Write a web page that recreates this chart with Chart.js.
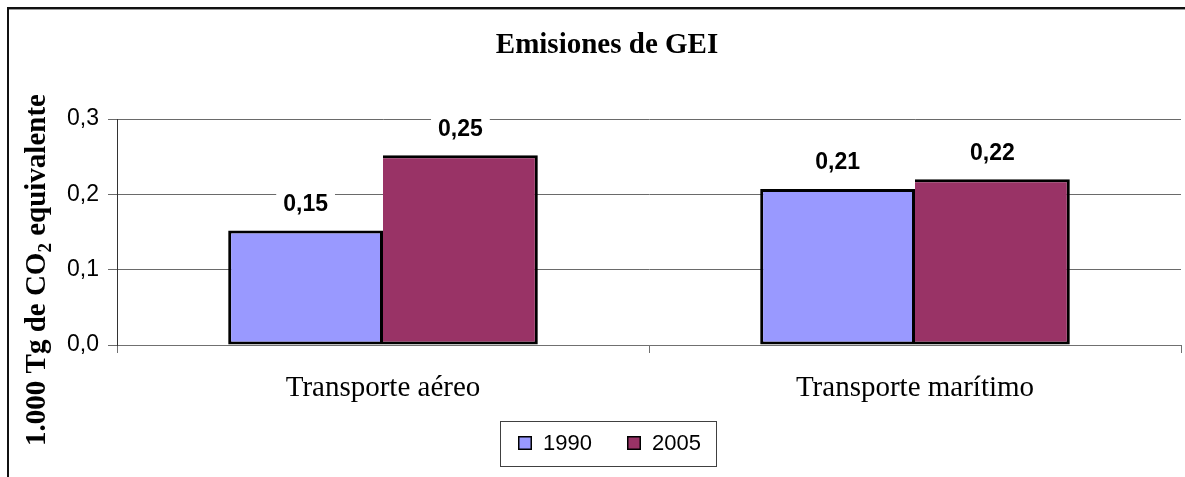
<!DOCTYPE html>
<html>
<head>
<meta charset="utf-8">
<script src="https://cdn.jsdelivr.net/npm/chart.js@4"></script>
<style>
html,body{margin:0;padding:0;background:#fff;}
#c{display:block;}
</style>
</head>
<body>
<canvas id="c" width="1185" height="477"></canvas>
<script>
const categories = ['Transporte aéreo', 'Transporte marítimo'];
const seriesLabels = ['1990', '2005'];
const values1990 = [0.152, 0.207];
const values2005 = [0.252, 0.220];
const seriesColors = ['#9999FF', '#993366'];
const yMin = 0, yMax = 0.3, yStep = 0.1;
const chartTitle = 'Emisiones de GEI';
const yTitleParts = ['1.000 Tg de CO', '2', ' equivalente'];

const SERIF = '"Liberation Serif", "Times New Roman", serif';
const SANS = '"Liberation Sans", Arial, sans-serif';

const decorPlugin = {
  id: 'decor',
  beforeDraw(chart) {
    const ctx = chart.ctx;
    ctx.save();
    ctx.fillStyle = '#fff';
    ctx.fillRect(0, 0, chart.width, chart.height);
    ctx.restore();
  },
  afterDraw(chart) {
    const ctx = chart.ctx;
    ctx.save();
    // outer frame (top & left)
    ctx.fillStyle = '#111';
    ctx.fillRect(7, 7, chart.width - 7, 2);
    ctx.fillRect(7, 7, 2, chart.height - 7);
    ctx.fillStyle = '#999';
    ctx.fillRect(9, 9, chart.width - 9, 1);
    // title
    ctx.fillStyle = '#000';
    ctx.font = 'bold 29px ' + SERIF;
    ctx.textAlign = 'center';
    ctx.textBaseline = 'alphabetic';
    ctx.fillText(chartTitle, 607, 53);
    // y-axis title with subscript
    ctx.save();
    ctx.translate(45, 270);
    ctx.rotate(-Math.PI / 2);
    const bigFont = 'bold 29px ' + SERIF;
    const smallFont = 'bold 19px ' + SERIF;
    ctx.font = bigFont;
    const w0 = ctx.measureText(yTitleParts[0]).width;
    const w2 = ctx.measureText(yTitleParts[2]).width;
    ctx.font = smallFont;
    const w1 = ctx.measureText(yTitleParts[1]).width;
    let x = -(w0 + w1 + w2) / 2;
    ctx.textAlign = 'left';
    ctx.font = bigFont;
    ctx.fillText(yTitleParts[0], x, 0);
    x += w0;
    ctx.font = smallFont;
    ctx.fillText(yTitleParts[1], x, 6);
    x += w1;
    ctx.font = bigFont;
    ctx.fillText(yTitleParts[2], x, 0);
    ctx.restore();
    // legend
    ctx.strokeStyle = '#404040';
    ctx.lineWidth = 1;
    ctx.strokeRect(500.5, 421.5, 216, 45);
    const legX = [518, 627];
    ctx.font = '22px ' + SANS;
    ctx.textAlign = 'left';
    ctx.textBaseline = 'alphabetic';
    chart.data.datasets.forEach((ds, i) => {
      ctx.fillStyle = ds.backgroundColor;
      ctx.fillRect(legX[i], 436, 14, 14);
      ctx.strokeStyle = '#000';
      ctx.lineWidth = 1.5;
      ctx.strokeRect(legX[i] + 0.75, 436.75, 12.5, 12.5);
      ctx.fillStyle = '#000';
      ctx.fillText(ds.label, legX[i] + 25, 450);
    });
    ctx.restore();
  },
  afterDatasetsDraw(chart) {
    const ctx = chart.ctx;
    ctx.save();
    ctx.font = 'bold 23px ' + SANS;
    ctx.textAlign = 'center';
    ctx.textBaseline = 'middle';
    chart.data.datasets.forEach((ds, di) => {
      const meta = chart.getDatasetMeta(di);
      meta.data.forEach((el, i) => {
        const txt = ds.data[i].toFixed(2).replace('.', ',');
        const w = ctx.measureText(txt).width;
        const cy = el.y - 27;
        ctx.fillStyle = '#fff';
        ctx.fillRect(el.x - w / 2 - 7, cy - 12, w + 14, 24);
        ctx.fillStyle = '#000';
        ctx.fillText(txt, el.x, cy + 1);
      });
    });
    ctx.restore();
  }
};

new Chart(document.getElementById('c'), {
  type: 'bar',
  data: {
    labels: categories,
    datasets: [
      { label: seriesLabels[0], data: values1990, backgroundColor: seriesColors[0], borderColor: '#000', borderWidth: 3, borderSkipped: false },
      { label: seriesLabels[1], data: values2005, backgroundColor: seriesColors[1], borderColor: '#000', borderWidth: 3, borderSkipped: 'left' }
    ]
  },
  options: {
    responsive: false,
    animation: false,
    devicePixelRatio: 1,
    layout: { padding: { top: 119, right: 4, left: 0, bottom: 0 } },
    datasets: { bar: { barPercentage: 1, categoryPercentage: 0.582 } },
    plugins: { legend: { display: false }, title: { display: false }, tooltip: { enabled: false } },
    scales: {
      x: {
        grid: { offset: true, drawOnChartArea: false, drawTicks: true, tickLength: 8, color: '#707070' },
        border: { color: '#707070', width: 1 },
        ticks: { font: { family: SERIF, size: 29 }, color: '#000', padding: 18 },
        afterFit(scale) { scale.height = 132; }
      },
      y: {
        min: yMin, max: yMax,
        ticks: {
          stepSize: yStep,
          font: { family: SANS, size: 23 },
          color: '#000',
          padding: 9,
          callback: v => Number(v).toFixed(1).replace('.', ',')
        },
        grid: { color: '#6a6a6a', tickLength: 9, lineWidth: 1 },
        border: { color: '#333', width: 1 },
        afterFit(scale) { scale.width = 117; }
      }
    }
  },
  plugins: [decorPlugin]
});
</script>
</body>
</html>
